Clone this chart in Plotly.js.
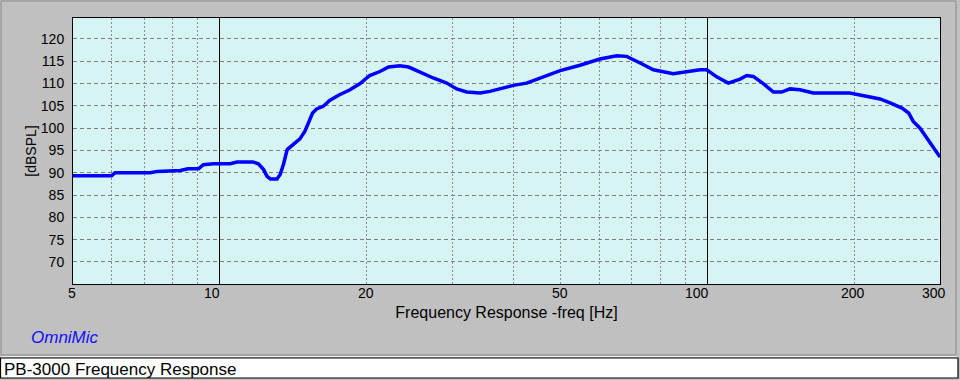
<!DOCTYPE html>
<html>
<head>
<meta charset="utf-8">
<script src="https://cdn.plot.ly/plotly-3.0.1.min.js"></script>
<style>
  html, body { margin: 0; padding: 0; background: #c0c0c0; }
  #chart { width: 960px; height: 380px; }
</style>
</head>
<body>
<div id="chart"></div>
<script>
// ---- data ----
const freqHz = [5.0, 6.0, 6.1, 7.2, 7.45, 8.3, 8.6, 9.05, 9.25, 9.7, 10.5, 10.85, 11.7, 12.0, 12.3, 12.5, 12.7, 13.1, 13.3, 13.5,
  13.75, 14.1, 14.6, 14.95, 15.2, 15.5, 15.8, 16.3, 16.8, 17.6, 18.5, 19.4, 20.3, 21.3, 22.2, 23.4, 24.4, 25.5, 27.4, 29.2,
  30.6, 32.1, 34.2, 35.8, 37.6, 40.0, 42.6, 45.4, 49.9, 54.8, 60.2, 65.2, 68.3, 72.8, 77.5, 85.1, 90.7, 96.6, 99.7, 104.5,
  110.4, 116.7, 120.4, 124.2, 130.2, 136.6, 142, 147.7, 154.8, 164.9, 196, 205.7, 215.6, 226, 237, 250.7, 258.7, 264.4, 273, 281.8,
  290.7, 300];
const splDb = [89.35, 89.35, 90.0, 90.0, 90.3, 90.5, 90.9, 90.9, 91.8, 92.0, 92.0, 92.4, 92.4, 92.0, 90.7, 89.2, 88.6, 88.6, 89.6, 91.8,
  95.2, 96.3, 97.6, 99.3, 101.2, 103.4, 104.3, 104.9, 106.2, 107.5, 108.6, 110.0, 111.8, 112.7, 113.7, 114.0, 113.7, 112.7, 111.25, 110.1,
  108.8, 108.1, 107.9, 108.25, 108.85, 109.6, 110.1, 111.25, 112.9, 114.1, 115.5, 116.25, 116.1, 114.6, 113.1, 112.2, 112.7, 113.1, 113.1, 111.5,
  110.1, 111.0, 111.8, 111.6, 110.0, 108.1, 108.1, 108.8, 108.6, 107.9, 107.9, 107.5, 107.0, 106.55, 105.65, 104.5, 103.4, 101.5, 100.0, 97.8,
  95.9, 93.5];

const xLabelVals = [5, 10, 20, 50, 100, 200, 300];
const xLabelText = ['5', '10', '20', '50', '100', '200', '300'];
const xDottedGrid = [6, 7, 8, 9, 20, 30, 40, 50, 60, 70, 80, 90, 200];
const xSolidGrid = [10, 100];
const yTickVals = [70, 75, 80, 85, 90, 95, 100, 105, 110, 115, 120];

const xRange = [5, 300];
const yRange = [65.05, 124.7];

const titleText = 'PB-3000 Frequency Response';
const xTitle = 'Frequency Response -freq [Hz]';
const yTitle = '[dBSPL]';
const brandText = 'OmniMic';

// ---- layout helpers (pixel -> paper) ----
const M = { l: 73, r: 20, t: 18, b: 96 };
const W = 960, H = 380;
const PW = W - M.l - M.r, PH = H - M.t - M.b;
const px = v => (v - M.l) / PW;
const py = v => (H - M.b - v) / PH;

const FONT = 'Liberation Sans, Arial, sans-serif';
const xLabelShift = [-1, -8, -1, -1, -10, -1, -6];

const annotations = xLabelVals.map((v, i) => ({
  x: Math.log10(v), xref: 'x', y: 0, yref: 'paper',
  text: xLabelText[i], showarrow: false,
  xanchor: 'center', yanchor: 'middle', xshift: xLabelShift[i], yshift: -8.5,
  font: { family: FONT, size: 14, color: '#000' }
}));
annotations.push({
  x: px(29), xref: 'paper', y: py(337), yref: 'paper', text: brandText, showarrow: false,
  xanchor: 'left', yanchor: 'middle',
  font: { family: FONT, size: 17, color: '#1010ff', style: 'italic' }
});
annotations.push({
  x: px(2), xref: 'paper', y: py(369), yref: 'paper', text: titleText, showarrow: false,
  xanchor: 'left', yanchor: 'middle',
  font: { family: FONT, size: 17, color: '#000' }
});

const shapes = [
  { type: 'rect', xref: 'paper', yref: 'paper', x0: px(1), x1: px(956), y0: py(355), y1: py(1),
    line: { color: '#8a8a8a', width: 1 }, fillcolor: 'rgba(0,0,0,0)', layer: 'below' },
  { type: 'line', xref: 'paper', yref: 'paper', x0: px(1), x1: px(957), y0: py(356.5), y1: py(356.5),
    line: { color: '#f0f0f0', width: 1 }, layer: 'below' },
  { type: 'rect', xref: 'paper', yref: 'paper', x0: px(0.5), x1: px(958), y0: py(378), y1: py(358),
    line: { color: '#000', width: 1.2 }, fillcolor: '#ffffff', layer: 'below' }
];

const trace = {
  x: freqHz, y: splDb, type: 'scatter', mode: 'lines',
  line: { color: '#0000ff', width: 3.5 },
  hoverinfo: 'skip'
};

const layout = {
  width: W, height: H,
  margin: { l: M.l, r: M.r, t: M.t, b: M.b, pad: 0 },
  paper_bgcolor: '#c0c0c0',
  plot_bgcolor: '#d6f4f4',
  showlegend: false,
  font: { family: FONT, size: 14, color: '#000' },
  xaxis: {
    type: 'log',
    range: [Math.log10(xRange[0]), Math.log10(xRange[1])],
    tickmode: 'array', tickvals: xDottedGrid, showticklabels: false, ticks: '',
    showgrid: true, gridcolor: '#8c8c8c', gridwidth: 1, griddash: '2px,2px',
    minor: { tickmode: 'array', tickvals: xSolidGrid, showgrid: true, gridcolor: '#000000', gridwidth: 1, griddash: 'solid', ticks: '' },
    showline: true, mirror: true, linecolor: '#000', linewidth: 1,
    zeroline: false,
    title: { text: xTitle, font: { family: FONT, size: 16, color: '#000' }, standoff: 22 }
  },
  yaxis: {
    range: yRange,
    tickmode: 'array', tickvals: yTickVals, ticks: '',
    ticklabelstandoff: 5,
    tickfont: { family: FONT, size: 14, color: '#000' },
    showgrid: true, gridcolor: '#808080', gridwidth: 1, griddash: '4px,3px',
    showline: true, mirror: true, linecolor: '#000', linewidth: 1,
    zeroline: false,
    title: { text: yTitle, font: { family: FONT, size: 14, color: '#000' }, standoff: 0 }
  },
  annotations: annotations,
  shapes: shapes
};

Plotly.newPlot('chart', [trace], layout, { staticPlot: true, displayModeBar: false });
</script>
</body>
</html>
